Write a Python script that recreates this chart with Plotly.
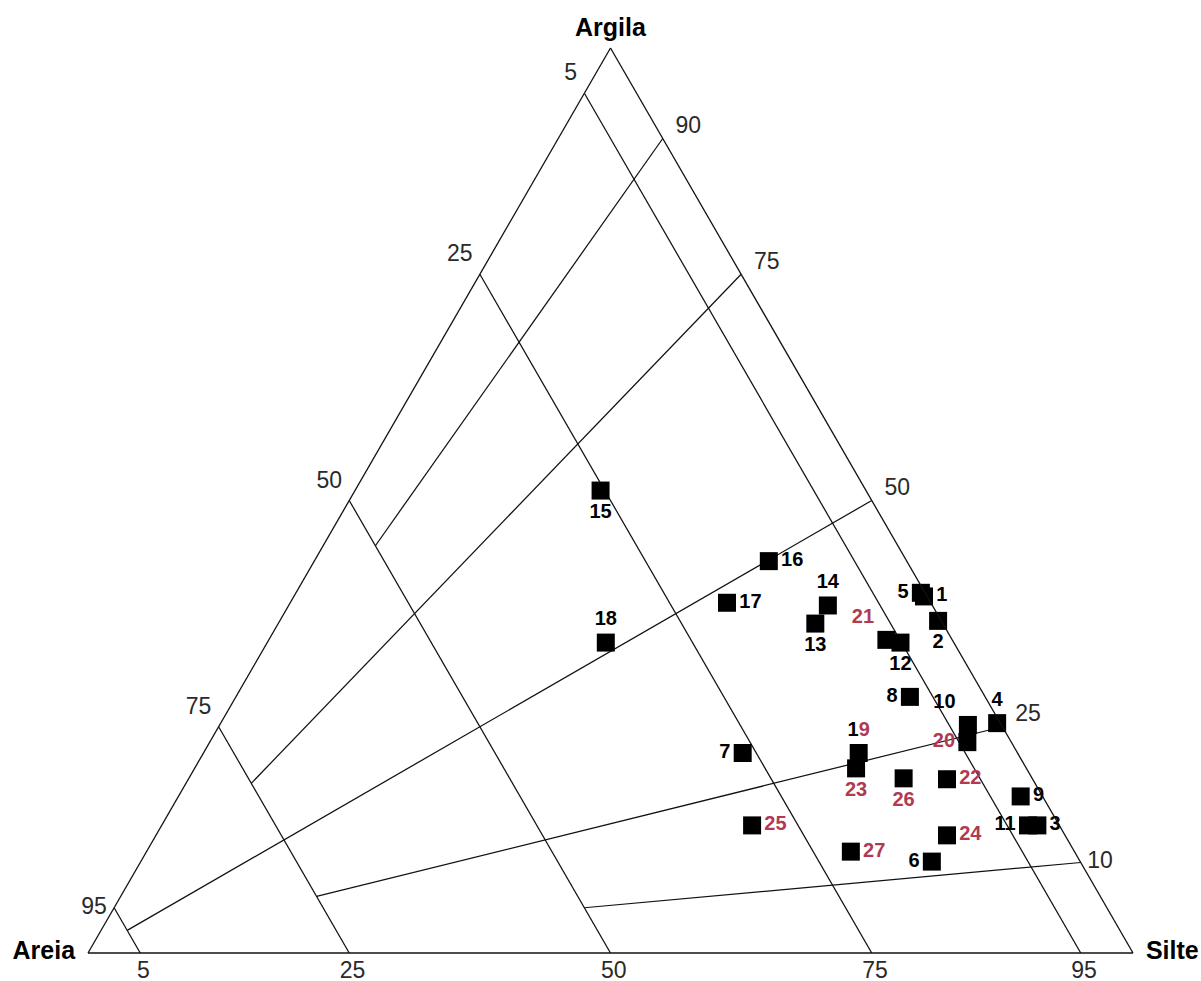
import plotly.graph_objects as go

# ---- soil texture samples (%): Argila (clay), Areia (sand), Silte (silt) ----
amostras = [str(i) for i in range(1, 28)]
argila = [39.4, 36.7, 14.1, 25.4, 39.8, 10.1, 22.1, 28.3, 17.3, 25.2, 14.1, 34.3, 36.4, 38.4,
          51.1, 43.3, 38.7, 34.3, 22.1, 23.3, 34.6, 19.2, 20.4, 13.0, 14.1, 19.3, 11.2]
areia = [0.3, 0.3, 2.1, 0.3, 0.4, 14.2, 26.3, 7.2, 2.1, 3.2, 3.0, 5.1, 12.2, 10.0,
         25.4, 13.2, 19.5, 33.3, 15.2, 4.2, 6.3, 8.2, 16.3, 11.3, 29.4, 12.3, 21.4]
silte = [60.3, 63.0, 83.8, 74.3, 59.8, 75.7, 51.6, 64.5, 80.6, 71.6, 82.9, 60.6, 51.4, 51.6,
         23.5, 43.5, 41.8, 32.4, 62.7, 72.5, 59.1, 72.6, 63.3, 75.7, 56.5, 68.4, 67.4]

# ---- reference lines ----
areia_ticks = [5, 25, 50, 75, 95]          # constant-sand lines (left edge labels)
silte_ticks = [95, 75, 50, 25, 5]          # where those lines meet the base
argila_ticks = [90, 75, 50, 25, 10]        # clay:silt ratio rays (right edge labels)
argila_ray_stop = [50, 75, 95, 75, 50]     # sand % at which each ray stops

BLACK = "#000000"
RED = "#b03a52"
TICK = "#2a2a2a"
FONT = "Liberation Sans, Arial, sans-serif"
NB = "\u00a0"

label_pos = ["middle right", "bottom center", "middle right", "top center", "middle left",
             "middle left", "middle left", "middle left", "middle right", "top left",
             "middle left", "bottom center", "bottom center", "top center", "bottom center",
             "middle right", "middle right", "top center", "top center", "middle left",
             "top left", "middle right", "bottom center", "middle right", "middle right",
             "bottom center", "middle right"]
label_text = list(amostras)
label_text[18] = "<span style='color:#000000'>1</span>9"
label_col = [BLACK if int(s) <= 18 else RED for s in amostras]

fig = go.Figure()

# constant-sand lines
ga, gb, gc = [], [], []
for v in areia_ticks:
    ga += [100 - v, 0, None]
    gb += [v, v, None]
    gc += [0, 100 - v, None]
# clay/silt rays from the right edge towards the sand corner
for v, stop in zip(argila_ticks, argila_ray_stop):
    f = (100 - stop) / 100
    ga += [v, v * f, None]
    gb += [0, stop, None]
    gc += [100 - v, (100 - v) * f, None]
fig.add_trace(go.Scatterternary(a=ga, b=gb, c=gc, mode="lines",
                                line=dict(color="#111111", width=1.25),
                                hoverinfo="skip", showlegend=False))

# edge labels (invisible markers give the text a small standoff)
pad_marker = dict(size=10, opacity=0)
fig.add_trace(go.Scatterternary(
    a=[100 - v for v in areia_ticks], b=areia_ticks, c=[0] * len(areia_ticks),
    mode="markers+text", marker=pad_marker, text=[str(v) for v in areia_ticks],
    textposition=["top left"] * 4 + ["middle left"],
    textfont=dict(family=FONT, size=23, color=TICK),
    cliponaxis=False, hoverinfo="skip", showlegend=False))
fig.add_trace(go.Scatterternary(
    a=[0] * len(silte_ticks), b=[100 - v for v in silte_ticks], c=silte_ticks,
    mode="markers+text", marker=pad_marker, text=[NB + str(v) for v in silte_ticks],
    textposition="bottom center",
    textfont=dict(family=FONT, size=23, color=TICK),
    cliponaxis=False, hoverinfo="skip", showlegend=False))
fig.add_trace(go.Scatterternary(
    a=argila_ticks, b=[0] * len(argila_ticks), c=[100 - v for v in argila_ticks],
    mode="text", text=[NB * 2 + str(v) for v in argila_ticks[:4]] + [NB + str(argila_ticks[4])],
    textposition=["top right"] * 4 + ["middle right"],
    textfont=dict(family=FONT, size=23, color=TICK),
    cliponaxis=False, hoverinfo="skip", showlegend=False))

# corner titles
fig.add_trace(go.Scatterternary(
    a=[100, 0, 0], b=[0, 100, 0], c=[0, 0, 100], mode="markers+text",
    marker=dict(size=8, opacity=0),
    text=["Argila", "Areia" + NB, NB + "Silte"],
    textposition=["top center", "middle left", "middle right"],
    textfont=dict(family=FONT, size=25, color=BLACK, weight="bold"),
    cliponaxis=False, hoverinfo="skip", showlegend=False))

# samples
fig.add_trace(go.Scatterternary(
    a=argila, b=areia, c=silte, mode="markers+text",
    marker=dict(symbol="square", size=18, color=BLACK, line=dict(width=0)),
    text=label_text, textposition=label_pos,
    textfont=dict(family=FONT, size=20, color=label_col, weight="bold"),
    cliponaxis=False, hoverinfo="skip", showlegend=False))

axis = dict(showline=True, linecolor="#111111", linewidth=1.3, showgrid=False,
            showticklabels=False, ticks="", min=0, title=dict(text=""))
fig.update_layout(
    width=1201, height=981,
    margin=dict(l=87, r=67, t=48, b=28),
    paper_bgcolor="white", plot_bgcolor="white",
    showlegend=False,
    ternary=dict(sum=100, bgcolor="white", domain=dict(x=[0, 1], y=[0, 1]),
                 aaxis=axis, baxis=axis, caxis=axis),
)

fig.write_html("out.html")
